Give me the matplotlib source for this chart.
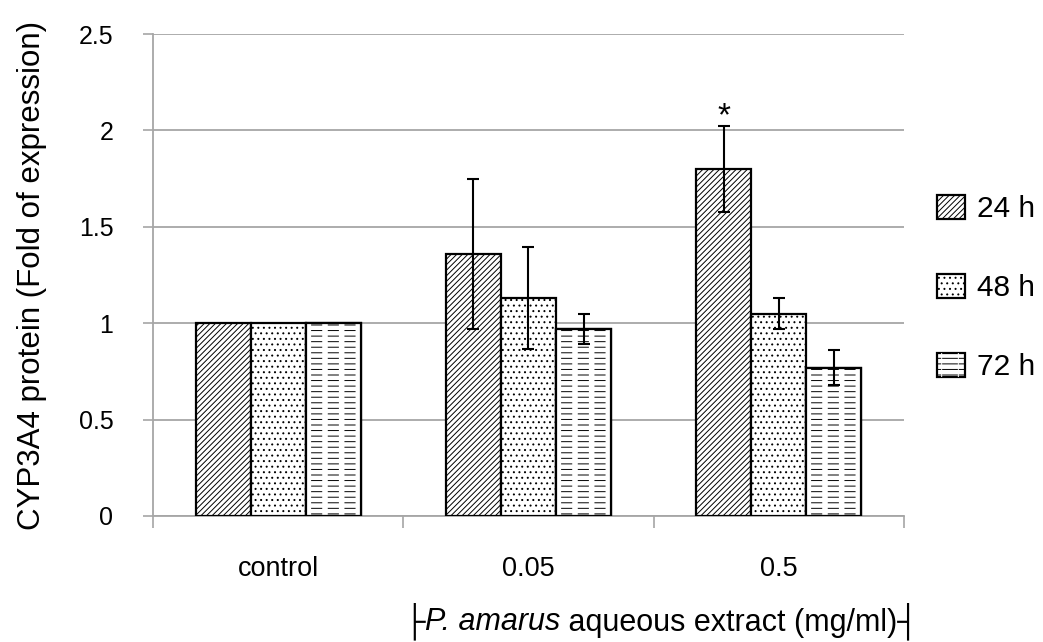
import matplotlib
matplotlib.use('Agg')
import matplotlib.pyplot as plt
from matplotlib.legend_handler import HandlerTuple
import numpy as np

plt.rcParams['font.family'] = ['Liberation Sans', 'DejaVu Sans']
plt.rcParams['hatch.linewidth'] = 0.7

# data
categories = ['control', '0.05', '0.5']
series = ['24 h', '48 h', '72 h']
vals_24h = [1.0, 1.36, 1.80]
vals_48h = [1.0, 1.13, 1.05]
vals_72h = [1.0, 0.97, 0.77]
err_24h = [0.0, 0.39, 0.225]
err_48h = [0.0, 0.265, 0.08]
err_72h = [0.0, 0.08, 0.09]
star_group = 2

fig = plt.figure(figsize=(10.43, 6.42), dpi=100)
ax = fig.add_axes([0.1467, 0.1963, 0.72, 0.7507])

x = np.arange(len(categories))
width = 0.22
hatches = ['//////', '...', '---']
all_vals = [vals_24h, vals_48h, vals_72h]
all_errs = [err_24h, err_48h, err_72h]

handles = []
for i, (vals, errs, h, lab) in enumerate(zip(all_vals, all_errs, hatches, series)):
    pos = x + (i - 1) * width
    bars = ax.bar(pos, vals, width, color='white', edgecolor='black', linewidth=1.6,
                  hatch=h, label=lab, zorder=3)
    hnd = [bars[0]]
    if h == '---':
        # break the horizontal lines into dashes with a white vertical hatch
        with plt.rc_context({'hatch.linewidth': 4.0}):
            cut = ax.bar(pos, vals, width, color='none', edgecolor='white',
                         linewidth=0, hatch='|', zorder=3.1)
        for p in cut:
            if hasattr(p, 'set_hatch_linewidth'):
                p.set_hatch_linewidth(4.0)
        ax.bar(pos, vals, width, color='none', edgecolor='black', linewidth=1.6,
               zorder=3.2)
        hnd.append(cut[0])
    handles.append(tuple(hnd))
    e = np.array(errs)
    m = e > 0
    ax.errorbar(pos[m], np.array(vals)[m], yerr=e[m], fmt='none', ecolor='black',
                elinewidth=1.5, capsize=4.5, capthick=1.5, zorder=4)

# significance star
sx = x[star_group] - width
sy = vals_24h[star_group] + err_24h[star_group]
ax.text(sx, sy, '*', ha='center', va='baseline', fontsize=24)

ax.set_xlim(-0.5, 2.5)
ax.set_ylim(0, 2.5)
ax.set_yticks([0, 0.5, 1, 1.5, 2, 2.5])
ax.set_yticklabels(['0', '0.5', '1', '1.5', '2', '2.5'], fontsize=18)
ax.yaxis.grid(True, color='#a6a6a6', linewidth=1.3, zorder=0)
ax.set_axisbelow(True)

ax.set_xticks([-0.5, 0.5, 1.5, 2.5])
ax.set_xticklabels([])
ax.set_xticks(x, minor=True)
ax.set_xticklabels(categories, minor=True, fontsize=19.5)
ax.tick_params(axis='x', which='minor', length=0, pad=29)
ax.tick_params(axis='x', which='major', length=8.6, width=1.2, color='#a6a6a6')
ax.tick_params(axis='y', length=7, width=1.2, color='#a6a6a6', pad=21.5)

for s in ['top', 'right']:
    ax.spines[s].set_visible(False)
for s in ['left', 'bottom']:
    ax.spines[s].set_color('#a6a6a6')
    ax.spines[s].set_linewidth(1.3)

ax.set_ylabel('CYP3A4 protein (Fold of expression)', fontsize=22.5)
ax.yaxis.set_label_coords(-0.141, 0.5)

# x label: roman / italic / roman pieces laid end to end on one baseline
pieces = [('├', 'normal'), ('P. amarus', 'italic'), (' aqueous extract (mg/ml)┤', 'normal')]
base_y = 1 - 630 / 642
xl_size = 22
texts = [fig.text(0, base_y, s, fontsize=xl_size, style=st, va='baseline', ha='left')
         for s, st in pieces]
renderer = fig.canvas.get_renderer()
widths = [t.get_window_extent(renderer).width for t in texts]
x0 = (661 - sum(widths) / 2) / 1043
for t, w in zip(texts, widths):
    t.set_x(x0)
    x0 += w / 1043

fig.legend(handles, series, handler_map={tuple: HandlerTuple(ndivide=1, pad=0)},
           loc='upper left', bbox_to_anchor=(937 / 1043, 1 - 195 / 642), frameon=False,
           fontsize=21.5, handlelength=0.93, handleheight=0.85, labelspacing=1.7,
           handletextpad=0.4, borderpad=0, borderaxespad=0)

fig.savefig('out.png', dpi=100)
